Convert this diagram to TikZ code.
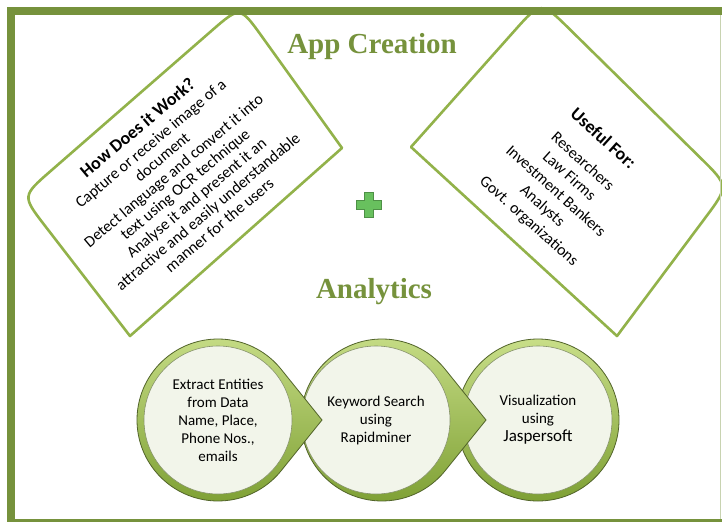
\documentclass[tikz,border=0pt]{standalone}
\usepackage{fontspec}
\setmainfont{Carlito}
\newfontfamily\headfont{Liberation Serif}
\usetikzlibrary{calc}
\definecolor{framegreen}{RGB}{118,146,60}
\definecolor{cardgreen}{RGB}{146,178,74}
\definecolor{headgreen}{RGB}{118,146,60}
\definecolor{ringlight}{RGB}{200,222,136}
\definecolor{ringdark}{RGB}{126,160,52}
\definecolor{ringline}{RGB}{82,100,42}
\definecolor{innerfill}{RGB}{242,245,234}
\definecolor{plusgreen}{RGB}{104,192,94}
\tikzset{
  cardline/.style={draw=cardgreen, line width=2.6pt, fill=white, line join=round},
  cardtext/.style={align=center, font=\fontsize{16}{17.8}\selectfont},
  heading/.style={text=headgreen, anchor=base, font=\headfont\bfseries\fontsize{29}{34}\selectfont},
  ring/.style={top color=ringlight, bottom color=ringdark, draw=ringline, line width=0.8pt},
  stepcircle/.style={circle, minimum size=148pt, inner sep=0pt, fill=innerfill, draw=ringline!70, line width=0.6pt, align=center, font=\fontsize{15}{18}\selectfont},
}
\begin{document}
\begin{tikzpicture}[x=1pt, y=1pt]
    \useasboundingbox (0,0) rectangle (722,-522);
    \fill[white] (0,0) rectangle (722,-522);

    % left card
    \coordinate (hBL) at (130,-336);
    \coordinate (hBR) at (342,-148);
    \coordinate (hTR) at (240,-6);
    \coordinate (hTL) at (22,-196);
    \draw[cardline] (hBL) -- (hBR) -- ($(hTR)!38pt!(hBR)$) .. controls (hTR) .. ($(hTR)!38pt!(hTL)$)
        -- ($(hTL)!38pt!(hTR)$) .. controls (hTL) .. ($(hTL)!38pt!(hBL)$) -- cycle;
    \node[cardtext, rotate=40] (howtext) at (178,-176) {{\bfseries\fontsize{18}{21}\selectfont How Does it Work?}\\[2pt]
        Capture or receive image of a\\ document\\ Detect language and convert it into\\ text using OCR technique\\
        Analyse it and present it an\\ attractive and easily understandable\\ manner for the users};

    % right card
    \coordinate (uBL) at (411,-147);
    \coordinate (uBR) at (617,-336);
    \coordinate (uTR) at (729,-186);
    \coordinate (uTL) at (541,-1);
    \draw[cardline] (uBL) -- (uBR) -- ($(uTR)!40pt!(uBR)$) .. controls (uTR) .. ($(uTR)!40pt!(uTL)$)
        -- ($(uTL)!40pt!(uTR)$) .. controls (uTL) .. ($(uTL)!40pt!(uBL)$) -- cycle;
    \node[cardtext, rotate=-42, font=\fontsize{16}{20}\selectfont] (usetext) at (566,-180) {{\bfseries\fontsize{18}{21}\selectfont Useful For:}\\[10pt]
        Researchers\\ Law Firms\\ Investment Bankers\\ Analysts\\ Govt. organizations};

    \node[heading] (appcreation) at (372,-53) {App Creation};
    \node[heading] (analytics) at (374,-298) {Analytics};

    % plus
    \begin{scope}[shift={(369,-205)}]
        \draw[fill=plusgreen, draw=plusgreen!75!black, line width=0.5pt] (-4.5,12.5) -- (4.5,12.5) -- (4.5,4.5) -- (12.5,4.5) -- (12.5,-4.5) -- (4.5,-4.5) -- (4.5,-12.5) -- (-4.5,-12.5) -- (-4.5,-4.5) -- (-12.5,-4.5) -- (-12.5,4.5) -- (-4.5,4.5) -- cycle;
    \end{scope}

    % analytics steps
    \coordinate (c1) at (218,-420);
    \coordinate (c2) at (382,-420);
    \coordinate (c3) at (538,-420);

    \path[ring] (c3) circle (81);
    \node[stepcircle] (visual) at (c3) {Visualization\\ using\\ {\fontsize{17}{18}\selectfont Jaspersoft}};

    \path[ring] ($(c2)+(104,0)$) -- ($(c2)+(38.8:81)$) arc[start angle=38.8, end angle=321.2, radius=81] -- cycle;
    \node[stepcircle] (keyword) at ($(c2)+(-6,0)$) {Keyword Search\\ using\\ Rapidminer};

    \path[ring] ($(c1)+(104,0)$) -- ($(c1)+(38.8:81)$) arc[start angle=38.8, end angle=321.2, radius=81] -- cycle;
    \node[stepcircle] (extract) at (c1) {Extract Entities\\ from Data\\ Name, Place,\\ Phone Nos.,\\ emails};

    % frame
    \fill[framegreen] (7,-7) rectangle (722,-15);
    \fill[framegreen] (7,-7) rectangle (15,-522);
    \fill[framegreen] (7,-518.5) rectangle (722,-522);
    \draw[framegreen!40, line width=1pt] (720.5,-15) -- (720.5,-518.5);
\end{tikzpicture}
\end{document}
